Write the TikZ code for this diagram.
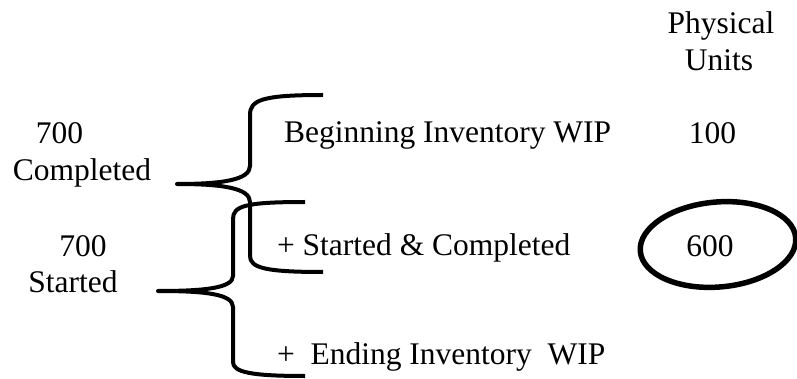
\documentclass[tikz,border=0pt]{standalone}
\usepackage{fontspec}
\setmainfont{Liberation Serif}
\begin{document}
\begin{tikzpicture}[x=1pt,y=-1pt,
  lbl/.style={inner sep=0pt,outer sep=0pt,font=\fontsize{31.5}{36}\selectfont},
  brace/.style={line width=4pt,line cap=butt,line join=round},
  ring/.style={line width=5.5pt}]
\useasboundingbox (0,0) rectangle (797,379);

% column heading
\node[lbl,anchor=base] (phys)  at (721,34) {Physical};
\node[lbl,anchor=base] (units) at (719,71) {Units};

% left-hand totals
\node[lbl,anchor=base] (c700) at (59.5,144) {700};
\node[lbl,anchor=base] (comp) at (82,181)  {Completed};
\node[lbl,anchor=base] (s700) at (83,256)  {700};
\node[lbl,anchor=base] (strt) at (73,292)  {Started};

% the three rows
\node[lbl,anchor=base west] (beg) at (284,143) {Beginning Inventory WIP};
\node[lbl,anchor=base west] (sc)  at (277,255) {+ Started \& Completed};
\node[lbl,anchor=base west] (end) at (277,364) {+\ \ Ending Inventory\ \ WIP};

% physical unit counts
\node[lbl,anchor=base] (u100) at (712.5,144) {100};
\node[lbl,anchor=base] (u600) at (710,256)   {600};
\draw[ring,rotate around={5:(718,244.5)}] (718,244.5) ellipse[x radius=78,y radius=42.5];

% brace: beginning WIP + started & completed = completed
\draw[brace] (323,95) .. controls (262,95) and (250,100) .. (250,115)
  -- (250,166) .. controls (250,180) and (222,184) .. (177,184)
  .. controls (222,184) and (250,188) .. (250,202)
  -- (250,256) .. controls (250,268) and (266,272) .. (323,272);

% brace: started & completed + ending WIP = started
\draw[brace] (305,202) .. controls (245,202) and (233,206) .. (233,219)
  -- (233,276) .. controls (233,288) and (205,291) .. (158,291)
  .. controls (205,291) and (233,294) .. (233,307)
  -- (233,362) .. controls (233,372) and (250,376) .. (305,376);
\end{tikzpicture}
\end{document}
